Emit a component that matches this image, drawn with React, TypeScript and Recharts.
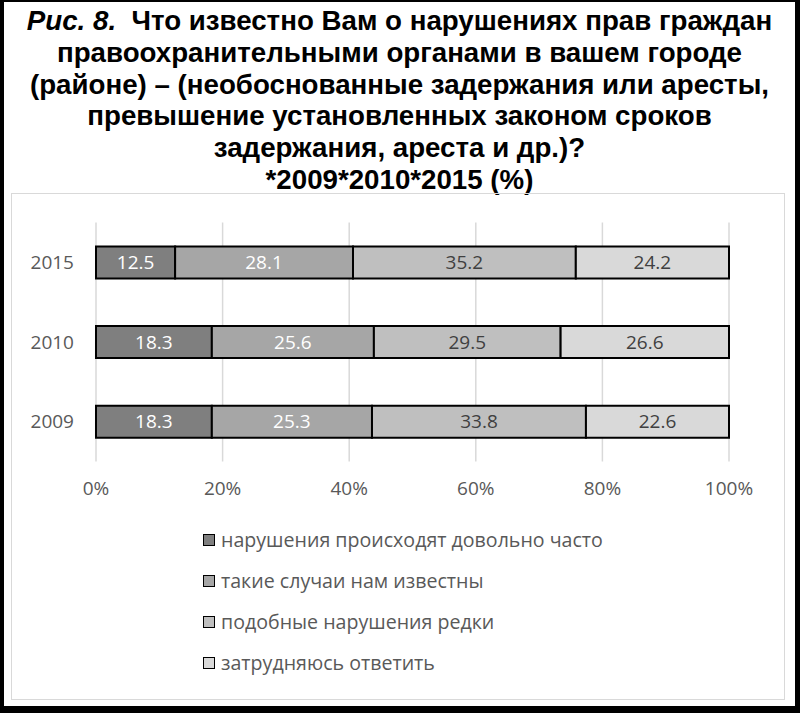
import React from "react";
import { BarChart, Bar, XAxis, YAxis, CartesianGrid, LabelList } from "recharts";

const years = ["2015", "2010", "2009"];
const often = [12.5, 18.3, 18.3];
const known = [28.1, 25.6, 25.3];
const rare = [35.2, 29.5, 33.8];
const hardToSay = [24.2, 26.6, 22.6];
const xTicks = [0, 20, 40, 60, 80, 100];

const seriesNames = [
  "нарушения происходят довольно часто",
  "такие случаи нам известны",
  "подобные нарушения редки",
  "затрудняюсь ответить",
];
const seriesKeys = ["often", "known", "rare", "hard"];
const fills = ["#7f7f7f", "#a6a6a6", "#bfbfbf", "#d9d9d9"];
const labelColors = ["#ffffff", "#ffffff", "#404040", "#404040"];

const data = years.map((y, i) => {
  const total = often[i] + known[i] + rare[i] + hardToSay[i];
  return {
    year: y,
    often: often[i],
    known: known[i],
    rare: rare[i],
    hard: hardToSay[i],
    pOften: (often[i] / total) * 100,
    pKnown: (known[i] / total) * 100,
    pRare: (rare[i] / total) * 100,
    pHard: (hardToSay[i] / total) * 100,
  };
});
const pctKeys = ["pOften", "pKnown", "pRare", "pHard"];

const font = "'Open Sans', sans-serif";

function LegendBox() {
  return (
    <div
      style={{
        position: "absolute",
        left: 191,
        top: 325,
        fontFamily: font,
        fontSize: 19.6,
        color: "#595959",
      }}
    >
      {seriesNames.map((n, i) => (
        <div key={n} style={{ display: "flex", alignItems: "center", height: 41 }}>
          <span
            style={{
              display: "inline-block",
              width: 10,
              height: 10,
              background: fills[i],
              border: "1.5px solid #000",
              marginRight: 6,
            }}
          />
          <span>{n}</span>
        </div>
      ))}
    </div>
  );
}

export default function App() {
  return (
    <div
      style={{
        position: "absolute",
        left: 0,
        top: 0,
        width: 800,
        height: 713,
        boxSizing: "border-box",
        background: "#fff",
        borderLeft: "4px solid #000",
        borderRight: "5px solid #000",
        borderTop: "2px solid #000",
        borderBottom: "7px solid #000",
      }}
    >
      <div
        style={{
          position: "absolute",
          left: 0,
          top: 3,
          width: 791,
          textAlign: "center",
          fontFamily: "'Liberation Sans Narrow', 'Liberation Sans', Arial, sans-serif",
          fontWeight: "bold",
          fontSize: 27.7,
          lineHeight: "31.8px",
          color: "#000",
        }}
      >
        <div>
          <i>Рис. 8.</i>&nbsp; Что известно Вам о нарушениях прав граждан
        </div>
        <div>правоохранительными органами в вашем городе</div>
        <div>(районе) – (необоснованные задержания или аресты,</div>
        <div>превышение установленных законом сроков</div>
        <div>задержания, ареста и др.)?</div>
        <div>*2009*2010*2015 (%)</div>
      </div>
      <div
        style={{
          position: "absolute",
          left: 7,
          top: 191,
          width: 774,
          height: 507,
          boxSizing: "border-box",
          border: "1.5px solid #d9d9d9",
        }}
      >
        <BarChart
          width={771}
          height={504}
          data={data}
          layout="vertical"
          barCategoryGap="30%"
          margin={{ top: 28.5, right: 54, left: 20, bottom: 186.5 }}
        >
          <CartesianGrid horizontal={false} stroke="#d9d9d9" strokeWidth={1.5} />
          <XAxis
            type="number"
            domain={[0, 100]}
            ticks={xTicks}
            tickFormatter={(v) => `${v}%`}
            axisLine={false}
            tickLine={false}
            tickMargin={14}
            height={50}
            tick={{ fontFamily: font, fontSize: 19, fill: "#595959" }}
          />
          <YAxis
            type="category"
            dataKey="year"
            axisLine={false}
            tickLine={false}
            width={64}
            tickMargin={16}
            tick={{ fontFamily: font, fontSize: 19, fill: "#595959" }}
          />
          {pctKeys.map((k, i) => (
            <Bar
              key={k}
              dataKey={k}
              name={seriesNames[i]}
              stackId="a"
              fill={fills[i]}
              stroke="#000"
              strokeWidth={2}
              isAnimationActive={false}
            >
              <LabelList
                dataKey={seriesKeys[i]}
                position="center"
                formatter={(v: number) => v.toFixed(1)}
                style={{ fontFamily: font, fontSize: 19, fill: labelColors[i] }}
              />
            </Bar>
          ))}
        </BarChart>
        <LegendBox />
      </div>
    </div>
  );
}
